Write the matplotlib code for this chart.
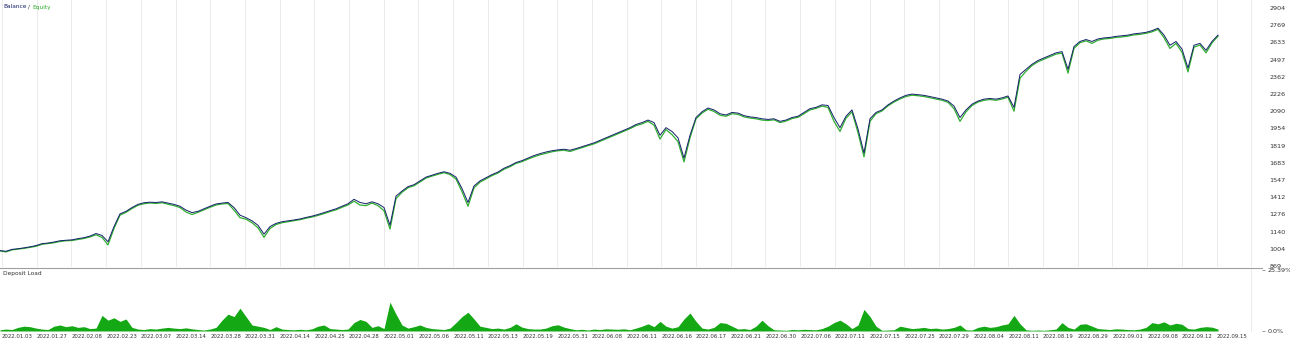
import numpy as np
import matplotlib.pyplot as plt

# balance / equity, sampled evenly along the test period
balance = [
    990, 985, 1000, 1005, 1012, 1020, 1030, 1045, 1050, 1058,
    1068, 1072, 1075, 1085, 1092, 1105, 1125, 1110, 1060, 1180,
    1280, 1300, 1330, 1355, 1368, 1372, 1370, 1375, 1365, 1355,
    1340, 1310, 1290, 1300, 1320, 1340, 1358, 1365, 1370, 1330,
    1270, 1250, 1225, 1190, 1120, 1180, 1205, 1218, 1225, 1232,
    1240, 1252, 1262, 1275, 1290, 1305, 1320, 1340, 1360, 1395,
    1370, 1360, 1375, 1360, 1330, 1190, 1420, 1460, 1495, 1510,
    1540, 1570, 1585, 1600, 1612, 1600, 1570, 1480, 1370, 1500,
    1540, 1565, 1590, 1610, 1640, 1660, 1685, 1700, 1720, 1740,
    1755, 1768, 1778, 1785, 1790, 1782, 1795, 1810, 1825, 1840,
    1860, 1880, 1900, 1920, 1940, 1960, 1985, 2000, 2020, 2000,
    1900, 1960, 1930, 1880, 1720, 1900, 2040, 2085, 2115, 2100,
    2070, 2060, 2080, 2075, 2055, 2045, 2040, 2030, 2025, 2030,
    2010, 2020, 2040, 2050, 2080, 2110, 2120, 2140, 2135, 2040,
    1960, 2050, 2100, 1950, 1760, 2030, 2080, 2100, 2140, 2170,
    2195, 2215, 2225, 2220, 2215, 2205, 2195, 2185, 2170, 2130,
    2040, 2100, 2145, 2170, 2185, 2190, 2185, 2195, 2210, 2120,
    2380, 2420, 2460, 2490, 2510, 2530, 2550, 2560, 2420, 2600,
    2640, 2655, 2640, 2660, 2668, 2672, 2680, 2685, 2690, 2700,
    2705, 2712, 2725, 2745, 2690, 2610, 2640, 2580, 2430, 2610,
    2625, 2570, 2640, 2690,
]
equity = [
    988, 980, 996, 1002, 1008, 1016, 1024, 1040, 1046, 1052,
    1062, 1068, 1070, 1078, 1086, 1098, 1115, 1095, 1035, 1165,
    1270, 1292, 1322, 1348, 1360, 1366, 1362, 1368, 1356, 1345,
    1330, 1295, 1275, 1292, 1312, 1332, 1350, 1358, 1362, 1310,
    1250, 1238, 1210, 1170, 1095, 1165, 1196, 1210, 1218, 1226,
    1234, 1246, 1255, 1268, 1282, 1298, 1312, 1332, 1350, 1380,
    1350, 1345, 1365, 1345, 1305, 1160, 1400, 1450, 1486, 1502,
    1532, 1562, 1578, 1592, 1605, 1590, 1555, 1455, 1340, 1485,
    1530, 1556, 1582, 1602, 1632, 1652, 1678, 1692, 1712, 1730,
    1746, 1758, 1770, 1778, 1782, 1772, 1788, 1802, 1818, 1832,
    1852, 1872, 1892, 1912, 1932, 1952, 1976, 1990, 2010, 1980,
    1870, 1945, 1905, 1850, 1690, 1880, 2030, 2075, 2105, 2088,
    2058, 2050, 2070, 2065, 2045, 2036, 2030, 2020, 2016, 2022,
    2000, 2012, 2032, 2042, 2070, 2100, 2112, 2130, 2120, 2010,
    1930, 2035, 2085, 1920, 1730, 2010, 2070, 2092, 2132, 2162,
    2186, 2206, 2216, 2212, 2206, 2196, 2186, 2176, 2160, 2110,
    2010, 2085, 2135, 2162, 2176, 2182, 2176, 2186, 2200, 2090,
    2350, 2405, 2450, 2480, 2500, 2520, 2540, 2548, 2390, 2585,
    2630, 2645, 2625, 2650, 2660, 2664, 2672, 2676, 2682, 2692,
    2696, 2704, 2716, 2735, 2670, 2585, 2625, 2555, 2400, 2595,
    2612, 2550, 2628, 2682,
]
# deposit load, %
load = [
    0.5, 0.8, 0.6, 1.5, 2.0, 1.8, 1.2, 0.8, 0.6, 2.0,
    2.5, 1.8, 2.2, 1.5, 1.8, 1.0, 1.2, 6.5, 4.5, 5.5,
    4.0, 5.0, 1.5, 0.8, 0.6, 1.0, 0.8, 1.2, 1.5, 1.2,
    1.0, 1.3, 0.9, 0.6, 0.4, 0.8, 1.5, 4.5, 7.0, 6.0,
    9.5, 6.0, 2.5, 2.0, 1.5, 0.6, 1.8, 0.8, 0.6, 0.5,
    0.7, 0.5, 0.9, 2.0, 2.5, 1.0, 0.8, 0.6, 0.8, 3.5,
    4.8, 4.0, 1.5, 2.2, 1.0, 12.0, 7.0, 2.5, 1.2, 1.8,
    2.5, 1.5, 1.0, 0.8, 0.6, 1.2, 3.5, 6.0, 7.8, 5.0,
    2.0, 1.5, 1.0, 1.2, 0.8, 1.5, 3.0, 1.6, 1.0, 0.8,
    0.8, 1.2, 2.2, 2.6, 1.6, 1.0, 0.5, 0.7, 0.4, 0.8,
    0.6, 0.9, 0.8, 0.7, 0.9, 0.5, 1.2, 2.0, 3.0, 1.8,
    4.0, 2.0, 1.2, 1.8, 5.0, 7.5, 4.0, 1.2, 0.8, 1.5,
    3.5, 3.2, 2.0, 0.8, 1.0, 0.6, 2.0, 4.5, 2.2, 0.5,
    0.4, 0.3, 0.6, 0.5, 0.7, 0.6, 0.5, 1.0, 2.0, 3.5,
    4.5, 3.0, 1.0, 2.5, 9.0, 6.0, 2.0, 0.3, 0.4, 0.5,
    2.0, 1.5, 1.0, 1.2, 1.5, 1.0, 1.2, 0.8, 1.0, 1.5,
    2.5, 0.5, 0.4, 1.5, 2.0, 1.5, 1.8, 2.5, 3.0, 6.5,
    3.0, 0.5, 0.3, 0.4, 0.3, 0.5, 0.8, 3.5, 1.5, 0.8,
    2.8, 3.0, 2.0, 1.0, 0.8, 0.6, 0.9, 0.8, 0.6, 0.5,
    0.8, 1.5, 3.5, 3.0, 3.8, 2.5, 3.2, 2.8, 1.0, 0.8,
    1.5, 1.8, 1.6, 0.8,
]

date_labels = [
    '2022.01.03', '2022.01.27', '2022.02.08', '2022.02.23', '2022.03.07',
    '2022.03.14', '2022.03.28', '2022.03.31', '2022.04.14', '2022.04.25',
    '2022.04.28', '2022.05.01', '2022.05.06', '2022.05.11', '2022.05.13',
    '2022.05.19', '2022.05.31', '2022.06.08', '2022.06.11', '2022.06.16',
    '2022.06.17', '2022.06.21', '2022.06.30', '2022.07.06', '2022.07.11',
    '2022.07.15', '2022.07.25', '2022.07.29', '2022.08.04', '2022.08.11',
    '2022.08.19', '2022.08.29', '2022.09.01', '2022.09.08', '2022.09.12',
    '2022.09.15',
]
y_labels = [2904, 2769, 2633, 2497, 2362, 2226, 2090, 1954, 1819, 1683,
            1547, 1412, 1276, 1140, 1004, 869]
y_grid = [2769, 2497, 2090, 1819, 1547, 1276, 1004]
load_max = 25.39

navy = '#14206a'
green = '#2fae2f'
fill_green = '#14a814'
grid_c = '#ebebeb'
txt_c = '#333333'

x = np.arange(len(balance))
px = 6.0  # pixels per sample
W, H = 1290, 341

fig = plt.figure(figsize=(W / 100, H / 100), dpi=100)
fig.patch.set_facecolor('white')
ax = fig.add_axes([0, (H - 267) / H, 1262 / W, 267 / H])
ax2 = fig.add_axes([0, (H - 332) / H, 1262 / W, 64 / H])

grid_pos = [(2 + 34.7 * k) / px for k in range(len(date_labels) + 1)]

for a in (ax, ax2):
    a.set_xlim(0, 1262 / px)
    for s in a.spines.values():
        s.set_visible(False)
    a.set_xticks(grid_pos, minor=True)
    a.grid(which='minor', axis='x', color=grid_c, lw=0.7)
    a.yaxis.tick_right()
    a.tick_params(axis='both', which='both', colors='#888888', labelcolor=txt_c, labelsize=4.6)

# top pane
ax.plot(x, equity, color=green, lw=0.9)
ax.plot(x, balance, color=navy, lw=0.7)
ax.set_ylim(861, 2967)
ax.set_xticks([])
ax.set_yticks(y_labels)
ax.set_yticklabels([str(v) for v in y_labels])
ax.set_yticks(y_grid, minor=True)
ax.tick_params(axis='y', which='major', length=0, pad=5.5)
ax.tick_params(axis='y', which='minor', length=2.5, width=0.6)
ax.grid(which='minor', axis='y', color=grid_c, lw=0.7)
ax.tick_params(axis='x', which='minor', length=0)

# bottom pane
ax2.fill_between(x, load, 0, color=fill_green, lw=0)
ax2.set_ylim(-0.42, 26.22)
ax2.set_yticks([0, load_max])
ax2.set_yticklabels(['0.0%', '25.39%'])
ax2.tick_params(axis='y', which='major', length=2.5, width=0.6, pad=1.5)
ax2.set_xticks(grid_pos[:-1])
ax2.set_xticklabels(date_labels, ha='left', fontsize=3.9)
ax2.tick_params(axis='x', which='both', length=0, pad=1.5)
ax2.spines['top'].set_visible(True)
ax2.spines['top'].set_color('#a0a0a0')
ax2.spines['top'].set_linewidth(0.8)

# legend-like caption, pieces laid side by side
r = fig.canvas.get_renderer()
xpos = 3
for part, col in (('Balance', navy), (' / ', txt_c), ('Equity', green)):
    t = fig.text(xpos / W, 1 - 7 / H, part, color=col, fontsize=4.2, va='center')
    xpos += t.get_window_extent(renderer=r).width
fig.text(3 / W, 1 - 273 / H, 'Deposit Load', color=txt_c, fontsize=4.2, va='center')

fig.savefig('out.png', dpi=100, facecolor='white')
